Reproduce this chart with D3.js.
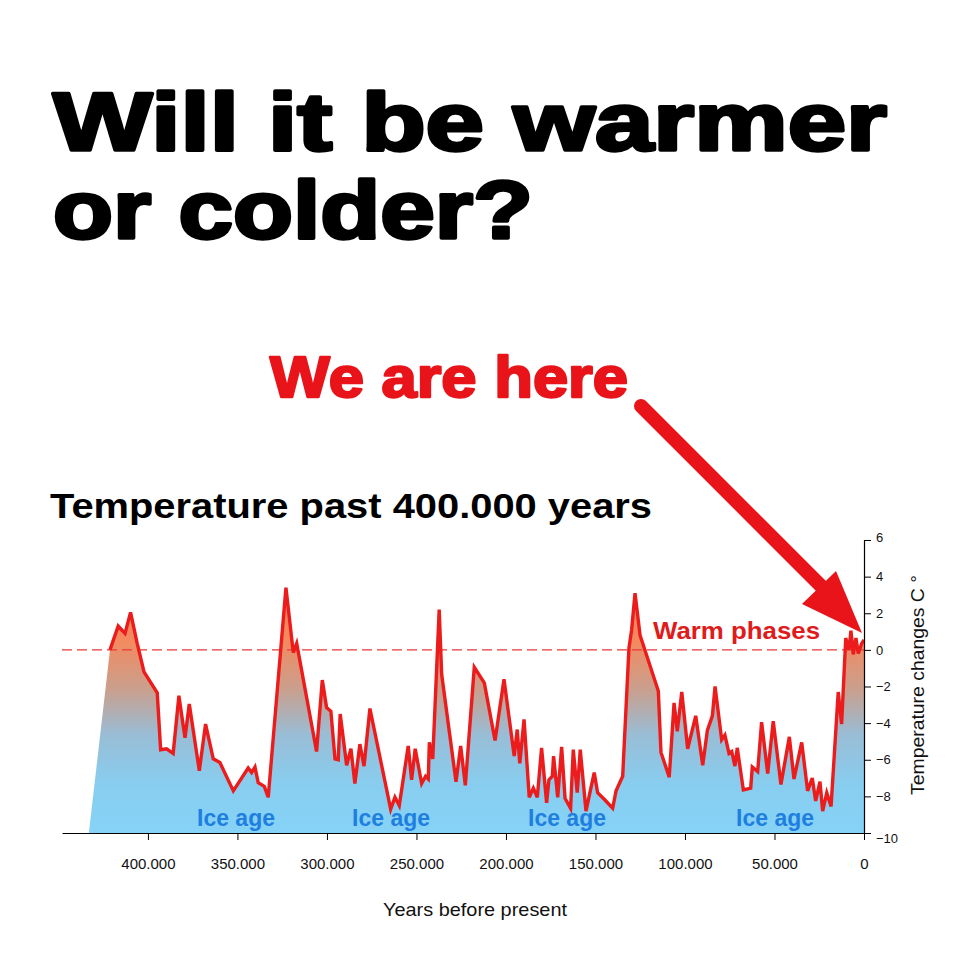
<!DOCTYPE html>
<html><head><meta charset="utf-8">
<script src="https://cdn.jsdelivr.net/npm/d3@7"></script>
<style>body{margin:0;background:#fff}svg{display:block}</style>
</head><body>
<svg id="c" width="960" height="960"></svg>
<script>
// Years before present (thousands) and temperature change (°C)
const years = [421.2,416.6,412.8,409.7,406.0,402.2,394.8,392.9,389.6,385.9,382.7,379.3,376.9,371.3,367.8,363.5,359.8,352.3,344.0,342.1,340.2,338.4,335.0,332.8,322.9,318.8,316.9,305.8,302.6,300.2,297.8,295.5,293.7,292.6,289.0,286.6,284.4,281.6,279.3,276.0,264.4,262.0,259.6,254.6,252.7,250.7,247.1,244.9,243.4,242.8,240.9,237.3,235.9,227.9,225.3,222.7,217.7,212.1,206.1,201.1,195.4,193.7,192.3,189.9,187.0,184.7,182.5,180.1,177.3,176.0,174.1,173.4,171.1,168.9,167.0,163.9,162.4,160.2,158.5,155.3,153.1,150.7,148.8,144.7,140.4,138.5,134.8,131.3,129.8,127.9,125.1,114.9,113.4,108.8,106.1,104.3,101.8,98.5,94.0,90.1,87.5,84.7,83.2,79.5,77.7,75.4,73.9,72.1,70.8,67.4,63.3,62.4,59.4,57.2,53.8,50.7,46.4,41.7,39.1,34.8,31.5,28.9,27.0,24.6,23.1,20.8,18.4,14.4,12.5,10.2,8.4,7.3,6.0,4.5,3.2,1.3,0];
const temps = [0,1.3,0.9,2.05,0.35,-1.2,-2.35,-5.45,-5.4,-5.65,-2.5,-4.8,-2.95,-6.6,-4.05,-5.95,-6.15,-7.7,-6.45,-6.7,-6.4,-7.25,-7.45,-8.05,3.4,-0.15,0.35,-5.55,-1.65,-3.15,-3.35,-5.95,-6.0,-3.5,-6.3,-5.4,-7.3,-5.15,-6.35,-3.2,-8.7,-8.05,-8.5,-5.25,-7.1,-5.4,-7.3,-6.9,-7.05,-5.05,-5.95,2.2,-1.35,-7.2,-5.25,-7.4,-0.95,-1.8,-4.95,-1.6,-5.8,-4.35,-6.2,-3.8,-8.05,-7.55,-8.05,-5.35,-8.35,-7.1,-6.9,-5.8,-8.05,-5.3,-8.1,-8.65,-5.45,-7.8,-5.45,-8.8,-7.8,-6.7,-7.8,-8.2,-8.65,-7.7,-6.9,0.1,1.1,3.1,0.8,-2.25,-5.6,-6.95,-2.9,-4.45,-2.3,-5.4,-3.6,-6.3,-4.4,-3.6,-2.0,-4.9,-4.65,-5.65,-5.55,-6.35,-5.35,-7.65,-7.55,-6.4,-6.65,-3.95,-6.75,-3.9,-7.35,-4.75,-7.05,-5.05,-7.7,-7.0,-8.25,-7.2,-8.8,-7.8,-8.55,-2.3,-4.05,0.65,0,1.05,-0.25,0.65,-0.2,0.35,0.55];
// area starts from the floor a little before the first reading
const areaStartYear = 433;
const xTicks = [400,350,300,250,200,150,100,50,0];
const yTicks = [6,4,2,0,-2,-4,-6,-8,-10];
const iceLabels = [{t:"Ice age", yr:350.8},{t:"Ice age", yr:264.2},{t:"Ice age", yr:165.9},{t:"Ice age", yr:49.7}];

const svg = d3.select("#c");
const x = d3.scaleLinear().domain([448,0]).range([62,864]);
const y = d3.scaleLinear().domain([-10,6]).range([833,540]);

const data = years.map((yr,i)=>({yr, v:temps[i]}));
const areaData = [{yr:areaStartYear, v:-10}].concat(data);

// Titles
const tf = "'Arial Black','Liberation Sans',Arial,sans-serif";
function bigText(txt, xx, yy, size, width, color, sw){
  svg.append("text").attr("x",xx).attr("y",yy).text(txt)
    .attr("font-family",tf).attr("font-weight",900).attr("font-size",size)
    .attr("fill",color).attr("stroke",color).attr("stroke-width",sw)
    .attr("stroke-linejoin","round")
    .attr("textLength",width).attr("lengthAdjust","spacingAndGlyphs");
}
bigText("Will it be warmer", 53, 150, 82, 834, "#000", 3.4);
bigText("or colder?", 53, 238, 82, 480, "#000", 3.4);
bigText("We are here", 270, 397, 58, 358, "#e8141a", 2.4);

svg.append("text").attr("x",50).attr("y",518).text("Temperature past 400.000 years")
  .attr("font-family","'Liberation Sans',Arial,sans-serif").attr("font-weight","bold")
  .attr("font-size",35).attr("fill","#000").attr("textLength",602).attr("lengthAdjust","spacingAndGlyphs");

// gradient
const defs = svg.append("defs");
const g = defs.append("linearGradient").attr("id","fillg").attr("gradientUnits","userSpaceOnUse")
  .attr("x1",0).attr("x2",0).attr("y1",y(3.4)).attr("y2",y(-10));
[[0,"#f67f52"],[0.22,"#f38a60"],[0.42,"#c8a08f"],[0.6,"#99bdd6"],[0.8,"#88cdef"],[1,"#85d3f7"]]
  .forEach(s=>g.append("stop").attr("offset",s[0]).attr("stop-color",s[1]));

svg.append("path").datum(areaData)
  .attr("d", d3.area().x(d=>x(d.yr)).y0(y(-10)).y1(d=>y(d.v)))
  .attr("fill","url(#fillg)");

// zero dashed line
svg.append("line").attr("x1",x(448)).attr("x2",x(0)).attr("y1",y(0)).attr("y2",y(0))
  .attr("stroke","#e83a3a").attr("stroke-width",1.3).attr("stroke-dasharray","10,5");

svg.append("path").datum(data)
  .attr("d", d3.line().x(d=>x(d.yr)).y(d=>y(d.v)))
  .attr("fill","none").attr("stroke","#ec1c1c").attr("stroke-width",3.4)
  .attr("stroke-linejoin","miter");

// Ice age labels
iceLabels.forEach(l=>{
  svg.append("text").attr("x",x(l.yr)).attr("y",826).attr("text-anchor","middle").text(l.t)
    .attr("font-family","'Liberation Sans',Arial,sans-serif").attr("font-weight","bold")
    .attr("font-size",23).attr("fill","#1f7fe0");
});
svg.append("text").attr("x",653).attr("y",639).text("Warm phases")
  .attr("font-family","'Liberation Sans',Arial,sans-serif").attr("font-weight","bold")
  .attr("font-size",24.5).attr("fill","#e01b1b").attr("textLength",167).attr("lengthAdjust","spacingAndGlyphs");

// axes
const xAxis = svg.append("g").attr("transform",`translate(0,${y(-10)})`)
  .call(d3.axisBottom(x).tickValues(xTicks).tickSize(7).tickSizeOuter(0)
    .tickFormat(d=> d===0 ? "0" : d3.format(",")(d*1000).replace(/,/g,".")));
xAxis.select(".domain").attr("stroke","#000").attr("stroke-width",1.2);
xAxis.selectAll("text").attr("font-family","'Liberation Sans',Arial,sans-serif").attr("font-size",15).attr("dy","1.75em").attr("fill","#111");

const yAxis = svg.append("g").attr("transform",`translate(${x(0)},0)`)
  .call(d3.axisRight(y).tickValues(yTicks).tickSize(7).tickSizeOuter(0));
yAxis.select(".domain").attr("stroke","#000").attr("stroke-width",1.2);
yAxis.selectAll("text").attr("font-family","'Liberation Sans',Arial,sans-serif").attr("font-size",13).attr("x",12).attr("fill","#111");
yAxis.selectAll(".tick").filter(d=>d===6).select("text").attr("dy","0.1em");
yAxis.selectAll(".tick").filter(d=>d===-10).select("text").attr("dy","0.7em");

svg.append("text").attr("x",475).attr("y",916).attr("text-anchor","middle").text("Years before present")
  .attr("font-family","'Liberation Sans',Arial,sans-serif").attr("font-size",19).attr("fill","#111")
  .attr("textLength",184).attr("lengthAdjust","spacingAndGlyphs");
svg.append("text").attr("transform","translate(924,685) rotate(-90)").attr("text-anchor","middle")
  .text("Temperature changes C °")
  .attr("font-family","'Liberation Sans',Arial,sans-serif").attr("font-size",18.5).attr("fill","#111")
  .attr("textLength",220).attr("lengthAdjust","spacingAndGlyphs");

// Arrow
svg.append("line").attr("x1",641).attr("y1",406).attr("x2",826).attr("y2",591)
  .attr("stroke","#e8141a").attr("stroke-width",14).attr("stroke-linecap","round");
svg.append("polygon").attr("points","862,633 802,604 836,571").attr("fill","#e8141a");
</script>
</body></html>
